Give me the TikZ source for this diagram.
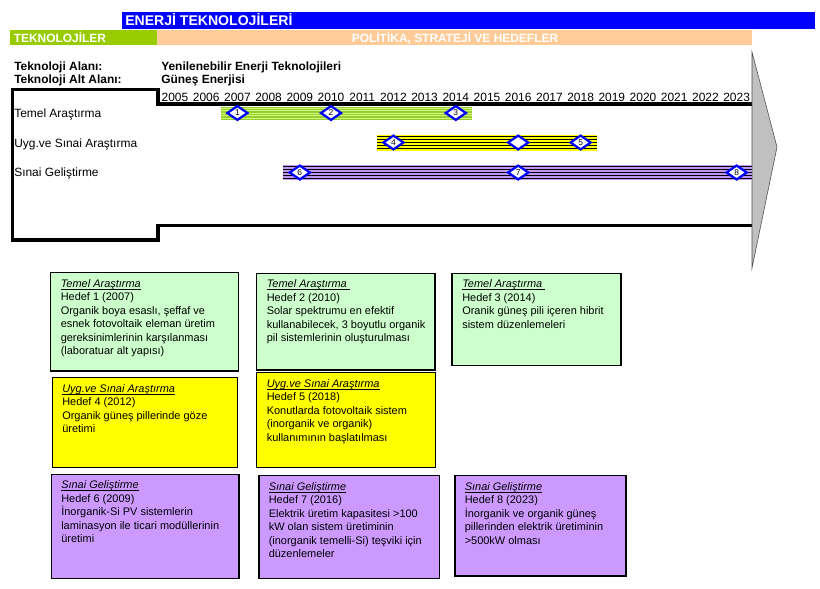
\documentclass[tikz,border=0pt]{standalone}
\usepackage{fontspec}
\setmainfont{Liberation Sans}
\usepackage{xcolor}
\usetikzlibrary{shapes.geometric}
\definecolor{enblue}{RGB}{0,0,255}
\definecolor{tekgreen}{RGB}{153,204,0}
\definecolor{polpeach}{RGB}{255,204,153}
\definecolor{boxgreen}{RGB}{204,255,204}
\definecolor{boxyellow}{RGB}{255,255,0}
\definecolor{boxpurple}{RGB}{204,153,255}
\definecolor{bargreen}{RGB}{153,204,51}
\definecolor{barlight}{RGB}{210,255,120}
\definecolor{barpurple}{RGB}{190,150,240}
\definecolor{arrowgray}{RGB}{192,192,192}
\tikzset{
	lbl/.style={anchor=base west, inner sep=0pt, font=\fontsize{8.5}{10}\selectfont},
	yr/.style={anchor=base, inner sep=0pt, font=\fontsize{8.5}{10}\selectfont},
	head/.style={anchor=base west, inner sep=0pt, text=white, font=\fontsize{#1}{12}\selectfont\bfseries},
	mstone/.style={diamond, draw=enblue, line width=1.6pt, fill=white, inner sep=0pt,
			minimum width=15pt, minimum height=10.5pt, font=\fontsize{6}{7}\selectfont},
	goal/.style={anchor=north west, inner sep=0pt, align=left, font=\fontsize{7.8}{9.6}\selectfont},
	goalbox/.style={draw=black, line width=1pt}
}
\newcommand{\goalhead}[1]{\setbox0\hbox{\textit{#1}}\rlap{\rule[-1.4pt]{\wd0}{0.5pt}}\box0}

\begin{document}
\begin{tikzpicture}[x=0.025cm,y=-0.025cm]
	\useasboundingbox (0,0) rectangle (820,588);
	\fill[enblue] (122,12) rectangle (815,29);
	\node[head=10] (title) at (125,25) {ENERJİ TEKNOLOJİLERİ};
	\fill[tekgreen] (10,30) rectangle (157,45);
	\fill[polpeach] (157,30) rectangle (752,45);
	\node[head=8.5] (tek) at (13.5,42) {TEKNOLOJİLER};
	\node[head=8.5, anchor=base] (pol) at (455,42) {POLİTİKA, STRATEJİ VE HEDEFLER};

	\node[lbl, font=\fontsize{8.5}{10}\selectfont\bfseries] (alan) at (14,70.5) {Teknoloji Alanı:};
	\node[lbl, font=\fontsize{8.5}{10}\selectfont\bfseries] (altalan) at (14,83.5) {Teknoloji Alt Alanı:};
	\node[lbl, font=\fontsize{8.5}{10}\selectfont\bfseries] (alanval) at (161,70.5) {Yenilenebilir Enerji Teknolojileri};
	\node[lbl, font=\fontsize{8.5}{10}\selectfont\bfseries] (altval) at (161,83.5) {Güneş Enerjisi};

	\draw[line width=2.2pt] (752,104) -- (158,104) -- (158,89.5) -- (12.5,89.5) -- (12.5,240)
		-- (158,240) -- (158,225.5) -- (752,225.5);
	\filldraw[fill=arrowgray, draw=black!70, line width=0.4pt] (752,52) -- (777,147) -- (752,268) -- cycle;

	\foreach \yr [count=\i from 0] in {2005,...,2023}
		\node[yr] (y\yr) at ({175+31.2*\i},101) {\yr};

	\node[lbl] (temel) at (14,117) {Temel Araştırma};
	\node[lbl] (uyg) at (14,147) {Uyg.ve Sınai Araştırma};
	\node[lbl] (sinai) at (14,176.5) {Sınai Geliştirme};

	\fill[bargreen] (221,106.5) rectangle (472,119.5);
	\foreach \s in {108,110.5,113,115.5,118}
		\draw[barlight, line width=0.7pt] (221,\s) -- (472,\s);
	\fill[boxyellow] (377,135) rectangle (597,150.5);
	\foreach \s in {136.5,139.5,142.5,145.5,148.5}
		\draw[black, line width=0.5pt] (377,\s) -- (597,\s);
	\fill[barpurple] (283,165) rectangle (752,180);
	\foreach \s in {166.5,169.5,172.5,175.5,178.5}
		\draw[black, line width=0.5pt] (283,\s) -- (752,\s);

	\foreach \num/\yr/\row in {1/2007/113, 2/2010/113, 3/2014/113, 4/2012/142.5, 5/2018/142.5,
			6/2009/172.5, 7/2016/172.5, 8/2023/172.5}
		\node[mstone] (m\num) at ({175+31.2*(\yr-2005)},\row) {\num};
	\node[mstone] (m45) at ({175+31.2*11},142.5) {};

	\filldraw[goalbox, fill=boxgreen] (50.5,272.7) rectangle (238.5,371);
	\node[goal] (g1) at (60.5,279) {\goalhead{Temel Araştırma}\\Hedef 1 (2007)\\Organik boya esaslı, şeffaf ve\\esnek fotovoltaik eleman üretim\\gereksinimlerinin karşılanması\\(laboratuar alt yapısı)};
	\filldraw[goalbox, fill=boxgreen] (256.5,273.3) rectangle (435,370);
	\node[goal] (g2) at (266.5,279.5) {\goalhead{Temel Araştırma\ }\\Hedef 2 (2010)\\Solar spektrumu en efektif\\kullanabilecek, 3 boyutlu organik\\pil sistemlerinin oluşturulması};
	\filldraw[goalbox, fill=boxgreen] (452,273.3) rectangle (621,365.5);
	\node[goal] (g3) at (462,279.5) {\goalhead{Temel Araştırma\ }\\Hedef 3 (2014)\\Oranik güneş pili içeren hibrit\\sistem düzenlemeleri};

	\filldraw[goalbox, fill=boxyellow] (52.5,377.3) rectangle (237.5,467.3);
	\node[goal] (g4) at (62,384) {\goalhead{Uyg.ve Sınai Araştırma}\\Hedef 4 (2012)\\Organik güneş pillerinde göze\\üretimi};
	\filldraw[goalbox, fill=boxyellow] (256.5,372.7) rectangle (435.5,467.3);
	\node[goal] (g5) at (266.5,379) {\goalhead{Uyg.ve Sınai Araştırma}\\Hedef 5 (2018)\\Konutlarda fotovoltaik sistem\\(inorganik ve organik)\\kullanımının başlatılması};

	\filldraw[goalbox, fill=boxpurple] (51.5,474.3) rectangle (239,578.3);
	\node[goal] (g6) at (61,480.5) {\goalhead{Sınai Geliştirme}\\Hedef 6 (2009)\\İnorganik-Si PV sistemlerin\\laminasyon ile ticari modüllerinin\\üretimi};
	\filldraw[goalbox, fill=boxpurple] (259,475.7) rectangle (439.5,578.3);
	\node[goal] (g7) at (268.5,482) {\goalhead{Sınai Geliştirme}\\Hedef 7 (2016)\\Elektrik üretim kapasitesi >100\\kW olan sistem üretiminin\\(inorganik temelli-Si) teşviki için\\düzenlemeler};
	\filldraw[goalbox, fill=boxpurple] (455,475.7) rectangle (626,576);
	\node[goal] (g8) at (464.5,482) {\goalhead{Sınai Geliştirme}\\Hedef 8 (2023)\\İnorganik ve organik güneş\\pillerinden elektrik üretiminin\\>500kW olması};
\end{tikzpicture}
\end{document}
